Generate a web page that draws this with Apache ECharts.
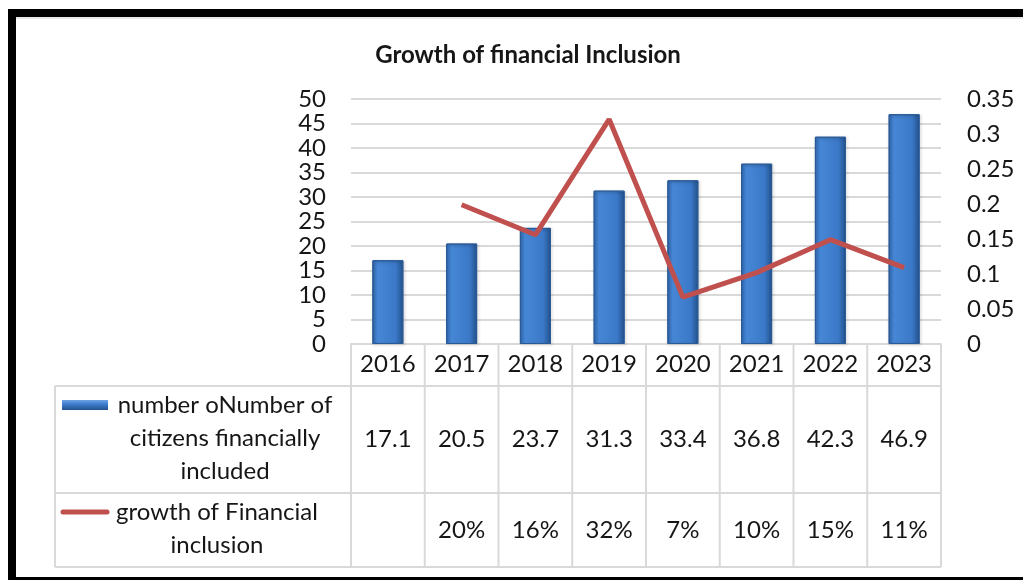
<!DOCTYPE html>
<html>
<head>
<meta charset="utf-8">
<script src="https://cdn.jsdelivr.net/npm/echarts@6/dist/echarts.min.js"></script>
<style>html,body{margin:0;padding:0;background:#fff;}#c{width:1023px;height:580px;}</style>
</head>
<body>
<div id="c"></div>
<script>
const title = 'Growth of financial Inclusion';
const years = ['2016', '2017', '2018', '2019', '2020', '2021', '2022', '2023'];
const citizens = [17.1, 20.5, 23.7, 31.3, 33.4, 36.8, 42.3, 46.9];
const growth = [null, 0.199, 0.156, 0.321, 0.067, 0.102, 0.149, 0.109];
const growthLabels = ['', '20%', '16%', '32%', '7%', '10%', '15%', '11%'];
const seriesNames = ['number oNumber of citizens financially included', 'growth of Financial inclusion'];
const row1Lines = ['number oNumber of', 'citizens financially', 'included'];
const row2Lines = ['growth of Financial', 'inclusion'];

const FONT = 'Lato, "Open Sans", sans-serif';
const FS = 24;
const TXT = '#161616';
const GRID = '#d9d9d9';

const chart = echarts.init(document.getElementById('c'), null, {renderer: 'canvas'});

const barColor = new echarts.graphic.LinearGradient(0, 0, 1, 0, [
  {offset: 0, color: '#3570bd'},
  {offset: 0.18, color: '#4687d5'},
  {offset: 0.75, color: '#3b79c8'},
  {offset: 1, color: '#23528d'}
]);

chart.setOption({
  animation: false,
  backgroundColor: '#fff',
  title: {
    text: title, left: 523, top: 38, textAlign: 'center',
    textStyle: {fontFamily: FONT, fontSize: 24, fontWeight: 'bold', color: TXT}
  },
  grid: {left: 351, top: 99, width: 590, height: 245, containLabel: false},
  xAxis: {
    type: 'category', data: years, boundaryGap: true,
    axisLine: {show: true, lineStyle: {color: GRID, width: 2}},
    axisTick: {show: false},
    axisLabel: {fontFamily: FONT, fontSize: FS, color: TXT, margin: 8}
  },
  yAxis: [
    {type: 'value', min: 0, max: 50, interval: 5,
     axisLine: {show: false}, axisTick: {show: false},
     axisLabel: {fontFamily: FONT, fontSize: FS, color: TXT, margin: 25},
     splitLine: {show: true, lineStyle: {color: GRID, width: 2}}},
    {type: 'value', min: 0, max: 0.35, interval: 0.05, position: 'right',
     axisLine: {show: false}, axisTick: {show: false},
     axisLabel: {fontFamily: FONT, fontSize: FS, color: TXT, margin: 26},
     splitLine: {show: false}}
  ],
  series: [
    {name: seriesNames[0], type: 'bar', data: citizens, barWidth: 31, yAxisIndex: 0,
     itemStyle: {color: barColor, borderColor: '#2a5a96', borderWidth: 1,
                 shadowColor: 'rgba(0,0,0,0.25)', shadowBlur: 3, shadowOffsetX: 1, shadowOffsetY: 1}},
    {name: seriesNames[1], type: 'line', data: growth, yAxisIndex: 1, symbol: 'none',
     lineStyle: {color: '#c0504d', width: 5}, z: 5}
  ]
});

// Data table below the plot, built from the arrays and the axis scale
const x0 = chart.convertToPixel({xAxisIndex: 0}, years[0]);
const x1 = chart.convertToPixel({xAxisIndex: 0}, years[1]);
const colW = x1 - x0;
const left = x0 - colW / 2;
const right = left + colW * years.length;
const base = chart.convertToPixel({yAxisIndex: 0}, 0);
const tableLeft = 55;
const rowTop = base + 42, rowMid = base + 149, rowBot = base + 223;

const g = [];
function line(a, b, c, d) {
  g.push({type: 'line', shape: {x1: a, y1: b, x2: c, y2: d}, style: {stroke: GRID, lineWidth: 2}, z: 10});
}
function text(s, x, y, align) {
  g.push({type: 'text', x: x, y: y, z: 11,
    style: {text: s, font: FS + 'px ' + FONT, fill: TXT, textAlign: align || 'center', align: align || 'center',
            textVerticalAlign: 'middle', verticalAlign: 'middle'}});
}
for (let i = 0; i <= years.length; i++) line(left + i * colW, base, left + i * colW, rowBot);
line(tableLeft, rowTop, tableLeft, rowBot);
[rowTop, rowMid, rowBot].forEach(y => line(tableLeft, y, right, y));

years.forEach((y, i) => {
  const cx = chart.convertToPixel({xAxisIndex: 0}, y);
  text(citizens[i].toFixed(1), cx, (rowTop + rowMid) / 2);
  text(growthLabels[i], cx, (rowMid + rowBot) / 2);
});
// legend keys
g.push({type: 'rect', shape: {x: 62, y: base + 56, width: 46, height: 10}, z: 11,
  style: {fill: new echarts.graphic.LinearGradient(0, 0, 0, 1, [
    {offset: 0, color: '#6fa3e6'}, {offset: 0.4, color: '#3f7fcf'}, {offset: 1, color: '#23528d'}])}});
g.push({type: 'line', shape: {x1: 63, y1: base + 168, x2: 107, y2: base + 168}, z: 11,
  style: {stroke: '#c0504d', lineWidth: 5, lineCap: 'round'}});
row1Lines.forEach((s, k) => text(s, 225, base + 61 + k * 33));
row2Lines.forEach((s, k) => text(s, 217, base + 168 + k * 33));

// black frame
g.push({type: 'rect', shape: {x: 8, y: 9, width: 1015, height: 8}, style: {fill: '#000'}, z: 20});
g.push({type: 'rect', shape: {x: 8, y: 9, width: 8, height: 571}, style: {fill: '#000'}, z: 20});
g.push({type: 'rect', shape: {x: 8, y: 577, width: 1015, height: 3}, style: {fill: '#000'}, z: 20});
g.push({type: 'line', shape: {x1: 16, y1: 18, x2: 1023, y2: 18}, style: {stroke: '#d0d0d0', lineWidth: 1}, z: 20});

chart.setOption({graphic: g});
</script>
</body>
</html>
